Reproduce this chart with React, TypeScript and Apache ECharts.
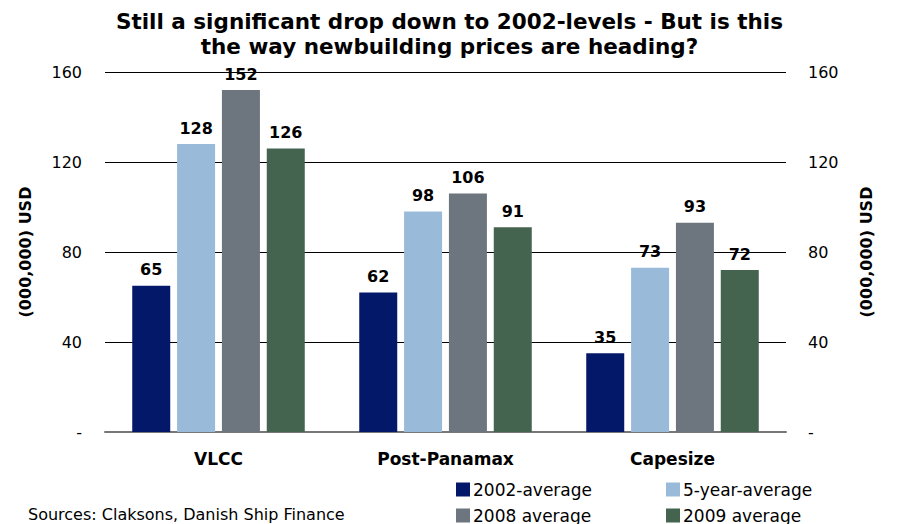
import React, { useEffect, useRef } from "react";
import * as echarts from "echarts";

const categories = ["VLCC", "Post-Panamax", "Capesize"];
const seriesNames = ["2002-average", "5-year-average", "2008 average", "2009 average"];
const avg2002 = [65, 62, 35];
const avg5yr = [128, 98, 73];
const avg2008 = [152, 106, 93];
const avg2009 = [126, 91, 72];
const colors = ["#041869", "#99bbd9", "#6d757e", "#446450"];

export default function App() {
  const ref = useRef<HTMLDivElement>(null);
  useEffect(() => {
    if (!ref.current) return;
    document.body.style.margin = "0";
    const chart = echarts.init(ref.current, undefined, { renderer: "svg" });
    const values = [avg2002, avg5yr, avg2008, avg2009];
    const yAxisCommon = {
      type: "value",
      min: 0,
      max: 160,
      interval: 40,
      name: "(000,000) USD",
      nameLocation: "middle",
      nameRotate: 90,
      nameTextStyle: { fontFamily: "DejaVu Sans", fontWeight: "bold", fontSize: 16, color: "#000" },
      axisLine: { show: false },
      axisTick: { show: false },
      axisLabel: {
        fontFamily: "DejaVu Sans",
        fontSize: 16,
        color: "#000",
        formatter: (v: number) => (v === 0 ? "-" : String(v)),
      },
    };
    const legendPos = [
      [456, 481],
      [666, 481],
      [456, 507],
      [666, 507],
    ];
    const legends = seriesNames.map((name, i) => ({
      data: [name],
      orient: "horizontal",
      left: legendPos[i][0],
      top: legendPos[i][1],
      padding: 0,
      itemWidth: 14,
      itemHeight: 14,
      icon: "rect",
      textStyle: { fontFamily: "DejaVu Sans", fontSize: 17, color: "#000", padding: [0, 0, 0, -2] },
    }));
    chart.setOption({
      animation: false,
      title: {
        text: "Still a significant drop down to 2002-levels - But is this\nthe way newbuilding prices are heading?",
        left: "center",
        top: 4,
        textStyle: {
          fontFamily: "DejaVu Sans",
          fontWeight: "bold",
          fontSize: 21.5,
          lineHeight: 25,
          color: "#000",
        },
      },
      grid: { left: 105, right: 113, top: 72, bottom: 92 },
      legend: legends,
      graphic: [
        {
          type: "text",
          left: 28,
          top: 506,
          style: {
            text: "Sources: Claksons, Danish Ship Finance",
            fontFamily: "DejaVu Sans",
            fontSize: 16,
            fill: "#000",
          },
        },
      ],
      xAxis: {
        type: "category",
        data: categories,
        axisLine: { lineStyle: { color: "#777", width: 2 } },
        axisTick: { show: false },
        axisLabel: {
          fontFamily: "DejaVu Sans",
          fontWeight: "bold",
          fontSize: 17,
          color: "#000",
          margin: 18,
        },
      },
      yAxis: [
        {
          ...yAxisCommon,
          position: "left",
          nameGap: 72,
          axisLabel: { ...yAxisCommon.axisLabel, margin: 23 },
          splitLine: { show: true, lineStyle: { color: "#000", width: 1 } },
        },
        {
          ...yAxisCommon,
          position: "right",
          nameGap: 72,
          axisLabel: { ...yAxisCommon.axisLabel, margin: 22 },
          splitLine: { show: false },
        },
      ],
      series: seriesNames.map((name, i) => ({
        name,
        type: "bar",
        data: values[i],
        itemStyle: { color: colors[i] },
        barWidth: 38,
        barGap: "18%",
        label: {
          show: true,
          position: "top",
          distance: 8,
          fontFamily: "DejaVu Sans",
          fontWeight: "bold",
          fontSize: 16,
          color: "#000",
        },
      })),
    });
    return () => chart.dispose();
  }, []);
  return <div ref={ref} style={{ width: 899, height: 524 }} />;
}
